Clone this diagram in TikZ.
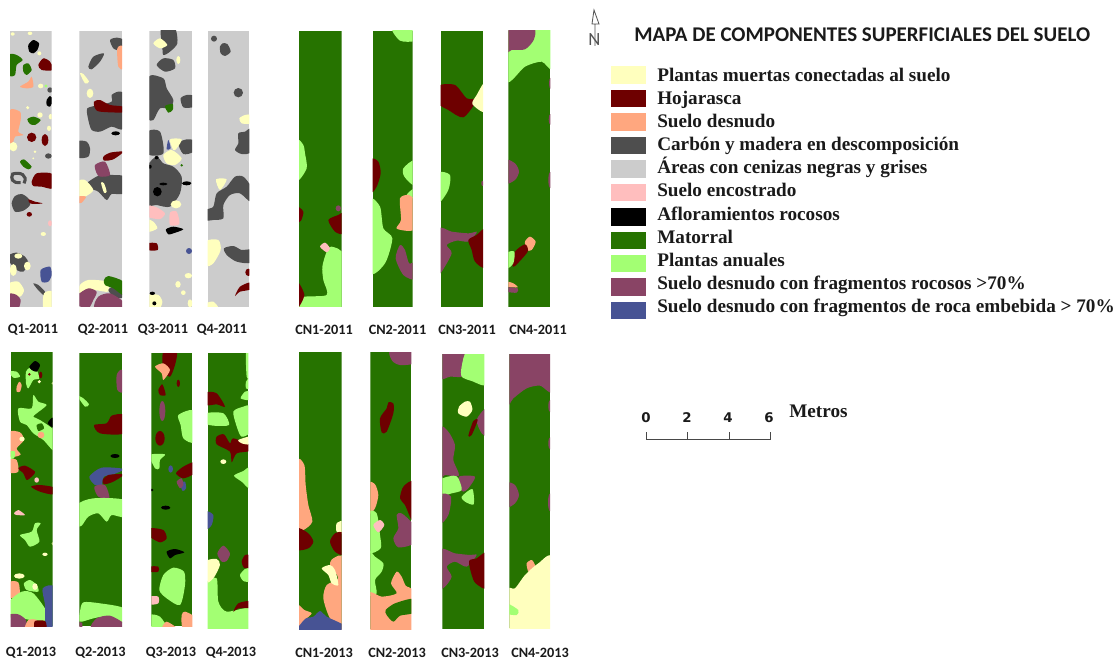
\documentclass[tikz,border=0pt]{standalone}
\usepackage{fontspec}
\setmainfont{Liberation Serif}
\newfontfamily\calib{Carlito}
\newfontfamily\dejav{DejaVu Sans}
\definecolor{cdead}{HTML}{FFFFBE}
\definecolor{clit}{HTML}{6E0000}
\definecolor{cbare}{HTML}{FFA77F}
\definecolor{cchar}{HTML}{4E4E4E}
\definecolor{cash}{HTML}{CCCCCC}
\definecolor{ccrust}{HTML}{FFBEBE}
\definecolor{crock}{HTML}{000000}
\definecolor{cshrub}{HTML}{267300}
\definecolor{cann}{HTML}{A3FF73}
\definecolor{cfrag}{HTML}{894465}
\definecolor{cemb}{HTML}{475394}
\definecolor{ctext}{HTML}{1A1A1A}
\newcommand{\B}[2]{\fill[#1] plot[smooth cycle,tension=.45] coordinates {#2};}
\newcommand{\E}[5][]{\fill[#2] (#3) ellipse [x radius=#4,y radius=#5];}
\newcommand{\RS}[6]{\clip (#1,#3) rectangle (#2,#4); \fill[#5] (#1,#3) rectangle (#2,#4); #6}
\newcommand{\Strip}[6]{\begin{scope}\RS{#1}{#2}{#3}{#4}{#5}{#6}\end{scope}}
\tikzset{
 zoomA/.style={x=0.25pt,y=-0.25pt,shift={(0pt,-15pt)}},
 zoomB/.style={x=0.25pt,y=-0.25pt,shift={(213.75pt,-15pt)}},
 zoomC/.style={x=0.25pt,y=-0.25pt,shift={(0pt,-258.75pt)}},
 zoomD/.style={x=0.25pt,y=-0.25pt,shift={(213.75pt,-258.75pt)}},
 plotlabel/.style={font=\calib\bfseries\fontsize{10.7}{12}\selectfont,text=ctext,inner sep=0pt,anchor=center},
 legendtext/.style={font=\bfseries\fontsize{14.4}{16}\selectfont,text=ctext,inner sep=0pt,anchor=base west},
 swatch/.style={minimum width=25.8pt,minimum height=13.2pt,inner sep=0pt,anchor=north west,draw=none},
 scalenum/.style={font=\dejav\bfseries\fontsize{10}{12}\selectfont,text=ctext,inner sep=0pt,anchor=center},
 scalebar/.style={draw=ctext!80,line width=0.7pt},
}
\begin{document}
\begin{tikzpicture}[x=0.75pt,y=-0.75pt]
\useasboundingbox (0,0) rectangle (1120,660);
\fill[white] (0,0) rectangle (1120,660);

%% ---------- 2011, Q
\begin{scope}[zoomA]
\Strip{30}{155}{32}{860}{cash}{
\B{crock}{(85,75)(100,60)(117,70)(112,90)(100,100)(88,95)}
\B{cshrub}{(28,105)(50,105)(68,120)(50,135)(45,165)(28,165)}
\B{cshrub}{(70,135)(85,130)(95,150)(80,165)(70,155)}
\B{clit}{(115,135)(130,115)(150,125)(158,150)(125,150)}
\B{cbare}{(60,200)(85,185)(95,170)(100,200)(80,205)}
\E{cchar}{150,210}{8}{8}
\B{crock}{(140,240)(150,228)(158,240)(150,260)(140,255)}
\E{cdead}{90,40}{7}{5}\E{cdead}{38,42}{6}{5}\E{cdead}{118,100}{6}{6}\E{cdead}{122,198}{8}{7}\E{cann}{138,198}{5}{5}
\E{cdead}{83,263}{5}{5}\E{cdead}{120,285}{8}{8}\E{cdead}{152,290}{6}{8}\E{cdead}{147,325}{6}{8}\E{cdead}{105,395}{4}{4}\E{cdead}{100,415}{3}{3}
\B{cshrub}{(82,298)(100,290)(122,300)(105,315)(90,312)}
\B{cbare}{(28,272)(60,275)(62,300)(55,335)(70,345)(45,350)(40,365)(28,365)}
\E{cdead}{40,380}{12}{14}
\E{clit}{95,352}{14}{14}\E{clit}{135,360}{10}{18}
\E{cchar}{145,408}{10}{8}
\B{cshrub}{(60,425)(72,418)(95,440)(85,448)(70,440)}
\draw[cchar,line width=2.3pt] (72,490) .. controls (85,465) and (60,455) .. (38,462) .. controls (32,475) and (35,490) .. (62,488);
\B{clit}{(95,485)(110,460)(158,462)(158,505)(125,500)(100,498)}
\B{cchar}{(35,550)(45,528)(65,522)(85,535)(90,555)(70,572)(45,575)}
\B{clit}{(85,538)(105,545)(128,550)(105,552)(90,550)}
\E{clit}{88,583}{8}{7}
\E{ccrust}{150,610}{6}{9}\E{cdead}{130,642}{8}{6}
\B{cchar}{(28,705)(50,698)(75,710)(85,730)(70,755)(50,750)(28,725)}
\E{cdead}{55,708}{12}{8}\E{cdead}{82,738}{10}{13}\E{cdead}{40,750}{10}{18}
\B{cemb}{(122,750)(150,740)(155,765)(145,785)(125,785)}
\B{cchar}{(100,790)(115,795)(135,815)(130,825)(110,805)}
\B{cdead}{(28,790)(55,785)(72,810)(60,830)(28,825)}
\B{cfrag}{(28,822)(50,825)(62,840)(55,865)(28,865)}
\B{cdead}{(132,820)(158,815)(158,865)(130,865)}
}
\Strip{238}{366}{32}{860}{cash}{
\B{cchar}{(330,60)(350,53)(370,60)(360,90)(340,85)}
\B{cbare}{(352,85)(370,80)(370,145)(355,140)}
\B{cchar}{(265,140)(280,110)(312,100)(300,125)(275,148)}
\B{cdead}{(240,160)(250,162)(267,185)(255,190)}
\E{cdead}{270,220}{10}{14}
\B{cchar}{(262,265)(300,255)(335,245)(335,225)(355,215)(370,225)(370,325)(335,320)(300,335)(275,330)(265,300)}
\B{clit}{(282,245)(300,240)(330,255)(370,260)(370,277)(300,275)(285,265)}
\E{crock}{347,340}{13}{6}
\B{cchar}{(234,365)(260,365)(270,385)(265,410)(234,412)}
\B{clit}{(310,410)(330,398)(370,395)(340,418)(312,422)}
\B{cchar}{(260,490)(300,465)(340,465)(370,470)(370,520)(335,522)(320,540)(295,515)(270,505)}
\B{cfrag}{(285,435)(315,425)(330,465)(300,470)(290,460)}
\B{cdead}{(234,485)(255,480)(280,510)(255,530)(234,530)}
\B{cbare}{(234,530)(258,530)(245,548)(234,548)}
\B{cdead}{(303,488)(312,490)(320,515)(312,518)}
\B{cdead}{(240,795)(265,780)(320,785)(325,815)(280,810)(240,820)}
\B{cchar}{(325,810)(345,800)(370,830)(345,835)}
\B{cshrub}{(312,780)(325,768)(370,785)(370,825)(340,805)(315,795)}
\B{cfrag}{(234,825)(265,805)(290,815)(280,840)(265,865)(234,855)}
\B{cfrag}{(285,865)(295,830)(330,820)(370,845)(370,865)}
}
\Strip{448}{576}{32}{860}{cash}{
\B{cchar}{(483,25)(525,25)(532,70)(510,95)(490,105)(487,80)}
\B{cdead}{(460,70)(480,55)(502,75)(480,85)}
\E{cdead}{535,120}{6}{12}
\B{cchar}{(470,135)(490,115)(520,120)(525,145)(495,155)}
\B{cchar}{(444,172)(490,175)(500,205)(520,240)(510,265)(480,265)(460,300)(444,290)}
\B{cshrub}{(495,258)(518,252)(518,270)(505,278)}
\B{cchar}{(542,235)(560,225)(580,228)(580,260)(550,262)}
\B{cchar}{(444,335)(480,335)(490,400)(444,402)}
\B{cchar}{(535,370)(560,358)(580,362)(580,395)(550,402)}
\B{cchar}{(444,440)(470,410)(490,430)(520,440)(545,470)(540,520)(510,560)(470,555)(444,550)}
\B{cemb}{(505,360)(512,385)(500,388)}
\B{cdead}{(510,358)(545,358)(530,385)(520,390)}
\B{cdead}{(490,405)(515,390)(545,415)(525,435)(500,430)}
\E{crock}{450,440}{5}{6}\E{crock}{470,413}{6}{5}\E{crock}{490,492}{12}{4}\E{crock}{472,515}{13}{14}\E{crock}{560,490}{14}{6}\E{cshrub}{545,436}{4}{4}
\E{cdead}{528,553}{16}{12}
\B{ccrust}{(444,558)(470,562)(495,580)(480,597)(444,590)}
\B{ccrust}{(510,578)(530,575)(538,612)(510,615)}
\B{cdead}{(444,600)(460,605)(472,625)(444,635)}
\B{crock}{(498,628)(520,620)(550,628)(520,640)(505,643)}
\B{clit}{(444,670)(470,670)(473,690)(444,690)}
\E{cemb}{567,693}{9}{9}
\E{cdead}{565,767}{11}{8}\E{cdead}{534,793}{8}{10}\E{cdead}{550,818}{7}{7}\E{cdead}{570,850}{7}{12}
\B{cdead}{(444,825)(475,825)(487,845)(478,865)(444,865)}
\E{crock}{457,820}{8}{5}\E{crock}{463,850}{6}{6}
}
\Strip{623}{748}{32}{860}{cash}{
\E{cchar}{642,56}{9}{9}
\B{cchar}{(660,80)(668,70)(682,72)(692,95)(675,108)(662,100)}
\E{cchar}{715,218}{14}{14}
\B{cdead}{(718,295)(735,285)(752,285)(752,310)(725,310)}
\B{cchar}{(715,340)(735,335)(752,328)(752,395)(725,402)(705,390)(715,370)}
\B{cdead}{(648,478)(680,478)(660,510)}
\B{cchar}{(619,570)(640,560)(650,520)(680,500)(705,470)(730,470)(752,500)(752,545)(720,520)(690,525)(670,555)(670,595)(640,600)(619,600)}
\B{cdead}{(619,665)(655,660)(662,690)(640,730)(619,735)}
\B{cchar}{(672,685)(700,678)(725,690)(752,690)(752,728)(710,725)(680,705)}
\E{clit}{745,757}{9}{11}
\B{clit}{(705,828)(720,800)(752,787)(752,808)(720,815)}
\B{cdead}{(619,850)(640,845)(655,865)(619,865)}
}
\end{scope}

%% ---------- 2011, CN
\begin{scope}[zoomB]
\Strip{42}{170}{32}{860}{cshrub}{
\B{cann}{(36,362)(55,375)(60,400)(65,445)(36,480)}
\B{clit}{(36,560)(55,575)(48,602)(36,605)}
\E{cfrag}{160,565}{8}{9}
\B{clit}{(130,600)(160,585)(176,580)(176,640)(150,635)}
\B{cann}{(125,695)(140,680)(176,708)(176,870)(36,870)(50,832)(125,825)(115,780)(112,740)}
\B{ccrust}{(105,680)(120,668)(135,685)(125,697)}
\B{clit}{(36,785)(58,825)(36,865)}
}
\Strip{263}{383}{32}{860}{cshrub}{
\B{cann}{(322,25)(390,25)(390,62)(345,62)}
\B{clit}{(258,420)(280,425)(287,460)(275,500)(258,515)}
\B{cann}{(388,422)(355,445)(358,470)(388,495)}
\B{cann}{(388,505)(365,525)(388,535)}
\B{cbare}{(345,535)(372,525)(388,545)(388,628)(335,626)(348,600)}
\B{cann}{(255,545)(285,560)(295,625)(322,655)(300,730)(255,755)}
\B{cfrag}{(345,675)(360,690)(372,730)(390,728)(390,778)(355,765)(332,715)}
}
\Strip{467}{594}{32}{860}{cshrub}{
\B{clit}{(460,198)(510,195)(545,235)(575,240)(535,292)(490,270)(460,250)}
\B{cdead}{(600,188)(575,225)(562,252)(600,275)}
\B{cann}{(460,460)(495,465)(490,510)(460,548)}
\E{cfrag}{592,490}{3}{8}
\B{cfrag}{(460,628)(500,635)(550,640)(575,635)(570,645)(550,665)(515,662)(485,675)(500,700)(470,755)(460,755)}
\B{clit}{(550,660)(575,645)(600,630)(600,740)(570,725)(560,690)}
}
\Strip{670}{796}{32}{860}{cshrub}{
\B{cann}{(660,25)(800,25)(800,145)(770,125)(720,140)(665,185)}
\B{cfrag}{(660,25)(746,25)(746,60)(720,88)(680,90)(660,100)}
\E{cfrag}{796,190}{4}{16}\E{cfrag}{796,298}{5}{16}\E{cfrag}{796,480}{6}{24}
\B{cfrag}{(660,420)(690,430)(702,455)(690,480)(660,490)}
\B{cbare}{(720,665)(735,650)(752,665)(740,690)(725,690)}
\B{clit}{(690,695)(720,673)(728,695)(690,738)(682,735)}
\B{cann}{(665,700)(688,695)(685,730)(665,745)}
\B{cbare}{(665,785)(685,790)(698,802)(665,800)}
\B{cfrag}{(665,802)(698,805)(695,818)(665,815)}
}
\end{scope}

%% ---------- 2013, Q
\begin{scope}[zoomC]
\Strip{32}{158}{20}{843}{cshrub}{
\B{cann}{(78,80)(90,68)(108,72)(118,100)(100,105)(85,130)(78,115)}
\B{crock}{(88,65)(105,48)(120,60)(110,80)(95,75)}
\B{cann}{(28,80)(50,80)(60,95)(40,98)}
\E{clit}{88,88}{4}{4}\E{clit}{122,90}{5}{10}
\E{cdead}{118,110}{5}{5}\E{cdead}{158,115}{3}{4}
\B{cbare}{(50,125)(58,110)(65,120)(60,140)(50,140)}
\B{cann}{(55,190)(95,190)(100,150)(115,170)(140,180)(110,205)(100,215)(120,225)(165,260)(165,320)(130,285)(100,265)(80,240)(60,230)}
\B{cshrub}{(110,240)(125,235)(132,250)(115,258)}
\B{crock}{(143,235)(158,218)(162,248)}
\E{cbare}{123,270}{10}{10}
\B{cbare}{(28,262)(60,262)(72,285)(50,310)(62,328)(45,335)(28,330)}
\E{cdead}{66,282}{8}{7}
\B{cann}{(28,320)(45,320)(42,340)(28,340)}
\B{cbare}{(28,345)(50,345)(55,380)(28,382)}
\B{clit}{(55,370)(75,362)(105,380)(95,395)(80,405)(70,385)}
\E{ccrust}{110,405}{7}{8}
\B{clit}{(93,425)(120,420)(165,428)(158,448)(120,440)}
\B{ccrust}{(42,505)(55,495)(75,510)(50,510)}
\B{cann}{(60,570)(95,560)(105,535)(122,535)(110,555)(118,590)(90,605)(75,585)}
\E{cdead}{135,628}{8}{5}\E{cdead}{158,596}{3}{5}
\E{cdead}{58,693}{16}{8}
\B{cbare}{(28,712)(55,712)(58,750)(28,758)}
\B{cann}{(72,715)(90,705)(110,720)(115,740)(80,735)}
\E{cdead}{105,725}{8}{10}
\B{cann}{(28,770)(65,740)(100,745)(140,800)(130,830)(65,820)(28,815)}
\B{cemb}{(128,730)(165,728)(165,850)(138,850)(135,780)}
\B{cfrag}{(28,810)(55,808)(78,825)(75,850)(28,850)}
\B{cbare}{(75,850)(85,825)(110,825)(105,850)}
\B{clit}{(105,828)(135,828)(138,850)(105,850)}
}
\Strip{238}{366}{25}{843}{cshrub}{
\B{cfrag}{(350,90)(366,75)(372,140)(352,135)}
\B{cann}{(232,152)(250,160)(267,178)(255,185)}
\B{clit}{(282,240)(320,235)(335,212)(372,210)(372,265)(300,265)}
\E{crock}{345,333}{14}{6}
\B{cemb}{(268,395)(305,368)(372,372)(340,388)(312,395)(305,420)(285,420)}
\B{clit}{(308,405)(325,390)(372,388)(340,410)(312,418)}
\B{cfrag}{(283,425)(315,420)(328,460)(295,455)}
\B{cann}{(232,480)(280,460)(372,465)(372,515)(335,510)(320,530)(295,505)(265,515)(245,542)(232,540)}
\B{cann}{(240,800)(250,772)(300,775)(372,790)(372,835)(320,815)(280,820)(240,830)}
\B{cfrag}{(275,850)(290,820)(330,812)(372,835)(372,850)}
\B{cfrag}{(232,833)(246,833)(246,850)(232,850)}
}
\Strip{454}{577}{25}{843}{cshrub}{
\B{clit}{(490,20)(530,20)(525,60)(510,95)(490,75)}
\B{cbare}{(465,65)(490,55)(510,75)(490,105)(485,85)}
\E{clit}{535,115}{5}{11}
\B{clit}{(475,135)(487,118)(497,150)(480,150)}
\E{cfrag}{487,198}{9}{30}
\E{clit}{480,280}{14}{22}
\B{cann}{(535,210)(582,198)(582,290)(550,280)(542,240)}
\B{cann}{(450,330)(495,328)(480,345)(478,370)(465,370)}
\E{cemb}{512,372}{7}{11}
\B{clit}{(528,385)(550,365)(582,352)(582,385)(550,400)}
\B{cemb}{(540,415)(555,410)(558,430)(548,438)}
\B{cfrag}{(530,410)(545,400)(550,420)(540,430)}
\E{crock}{497,488}{14}{6}\E{crock}{456,435}{4}{4}
\B{clit}{(450,550)(490,555)(500,580)(480,592)(450,575)}
\B{crock}{(500,620)(525,612)(553,622)(525,630)(510,640)}
\B{clit}{(450,665)(475,665)(475,680)(450,680)}
\B{cann}{(490,690)(520,668)(552,680)(555,720)(540,780)(500,760)(478,735)}
\B{ccrust}{(450,755)(475,755)(475,775)(450,778)}
\B{cann}{(450,810)(480,815)(500,850)(450,850)}
\B{cbare}{(487,850)(500,830)(530,850)}
\B{cbare}{(545,810)(555,800)(582,815)(582,850)(548,850)}
}
\Strip{623}{745}{25}{850}{cshrub}{
\B{cann}{(738,25)(750,25)(750,95)(740,95)}
\B{cann}{(738,110)(748,100)(748,130)(738,130)}
\B{cann}{(722,160)(735,140)(750,140)(750,165)}
\B{clit}{(618,143)(650,145)(675,185)(650,178)(618,180)}
\B{cann}{(618,205)(670,205)(687,240)(640,242)(618,235)}
\B{cann}{(700,200)(730,185)(750,185)(750,260)(725,275)(712,250)}
\B{clit}{(650,275)(672,268)(690,295)(700,280)(750,300)(750,318)(710,325)(695,352)(690,320)(650,298)}
\B{cdead}{(715,285)(750,275)(750,298)(725,295)}
\E{cdead}{670,350}{9}{7}
\B{cann}{(702,392)(730,378)(750,368)(750,430)(725,410)}
\B{cemb}{(618,500)(640,510)(635,540)(618,552)}
\B{cfrag}{(652,625)(670,602)(690,625)(680,648)(665,650)}
\B{clit}{(725,650)(735,630)(750,632)(750,668)(732,668)}
\B{cann}{(720,690)(735,672)(750,672)(750,708)(730,708)}
\B{cann}{(618,720)(650,700)(655,770)(680,800)(750,790)(750,855)(618,855)}
\B{cdead}{(618,650)(650,642)(660,660)(640,700)(618,712)}
\B{clit}{(700,800)(715,775)(750,768)(750,788)(715,790)}
}
\end{scope}

%% ---------- 2013, CN
\begin{scope}[zoomD]
\Strip{42}{170}{22}{852}{cshrub}{
\B{cbare}{(36,350)(58,360)(62,420)(70,480)(82,530)(55,555)(36,545)}
\B{clit}{(36,550)(70,565)(85,590)(70,610)(36,613)}
\B{cdead}{(155,535)(176,528)(176,565)(155,560)}
\B{clit}{(135,590)(150,565)(176,565)(176,628)(150,620)}
\B{cbare}{(135,660)(145,640)(176,645)(176,860)(135,820)(115,760)(125,720)(160,700)}
\B{cdead}{(110,670)(135,660)(150,675)(160,720)(140,715)(130,690)}
\B{cbare}{(36,780)(58,795)(80,805)(60,825)(36,855)}
\B{cemb}{(42,860)(60,822)(85,815)(105,798)(125,815)(176,840)(176,860)}
}
\Strip{256}{379}{22}{852}{cshrub}{
\B{cfrag}{(315,18)(385,18)(385,55)(345,60)(322,48)}
\B{clit}{(285,220)(305,190)(310,172)(325,175)(325,205)(305,260)(290,262)}
\B{cbare}{(250,415)(270,418)(280,450)(270,490)(250,505)}
\B{cfrag}{(335,510)(350,505)(385,540)(385,595)(340,607)(325,580)(340,550)}
\B{clit}{(385,412)(355,425)(345,460)(360,480)(385,530)}
\B{cann}{(250,505)(275,505)(285,570)(287,610)(250,620)}
\B{ccrust}{(265,540)(285,525)(298,540)(280,562)}
\B{cann}{(250,620)(270,635)(295,655)(290,680)(270,705)(275,745)(250,745)}
\B{cbare}{(250,745)(290,755)(335,745)(318,715)(335,680)(350,695)(362,722)(385,742)(385,860)(250,860)}
\B{cshrub}{(302,795)(330,775)(385,762)(385,803)(345,812)(325,830)(305,810)}
}
\Strip{472}{598}{28}{852}{cshrub}{
\B{cfrag}{(465,20)(545,20)(530,70)(530,95)(495,95)(465,100)}
\B{cann}{(545,20)(605,20)(605,118)(560,108)(530,95)(530,65)}
\B{cdead}{(540,170)(555,170)(562,195)(545,215)(520,205)(522,185)}
\B{cfrag}{(605,190)(575,225)(590,265)(605,268)}
\B{clit}{(565,228)(578,225)(560,270)(550,272)}
\B{cfrag}{(465,250)(490,260)(510,300)(505,345)(522,392)(480,390)(465,395)}
\B{cfrag}{(522,395)(570,395)(550,430)(535,440)(525,430)}
\B{cann}{(465,405)(505,392)(520,400)(530,435)(500,445)(465,452)}
\B{cann}{(530,455)(562,432)(566,478)(540,470)}
\B{cfrag}{(465,450)(498,455)(490,510)(465,535)}
\B{cfrag}{(465,615)(510,625)(555,630)(575,630)(545,665)(510,650)(485,665)(500,695)(480,725)(465,725)}
\B{clit}{(552,648)(575,640)(605,625)(605,728)(572,715)(560,690)}
}
\Strip{673}{795}{28}{850}{cshrub}{
\B{cfrag}{(665,20)(802,20)(802,140)(765,122)(725,130)(685,160)(665,180)}
\E{cfrag}{795,183}{5}{18}\E{cfrag}{795,295}{5}{18}\E{cfrag}{795,472}{6}{26}
\B{cfrag}{(665,415)(690,420)(702,450)(690,475)(665,485)}
\B{cbare}{(725,655)(740,645)(750,660)(745,680)(730,680)}
\B{cdead}{(665,735)(690,730)(720,690)(760,655)(802,640)(802,860)(665,860)}
\B{cann}{(665,775)(700,795)(695,810)(665,805)}
}
\end{scope}

%% ---------- strip labels
\node[plotlabel] (q1a) at (33,330) {Q1-2011};
\node[plotlabel] (q2a) at (103,330) {Q2-2011};
\node[plotlabel] (q3a) at (163,330) {Q3-2011};
\node[plotlabel] (q4a) at (222,330) {Q4-2011};
\node[plotlabel] (c1a) at (324,330) {CN1-2011};
\node[plotlabel] (c2a) at (397.5,330) {CN2-2011};
\node[plotlabel] (c3a) at (467,330) {CN3-2011};
\node[plotlabel] (c4a) at (538,330) {CN4-2011};
\node[plotlabel] (q1b) at (31,653) {Q1-2013};
\node[plotlabel] (q2b) at (100.5,653) {Q2-2013};
\node[plotlabel] (q3b) at (171,653) {Q3-2013};
\node[plotlabel] (q4b) at (231,653) {Q4-2013};
\node[plotlabel] (c1b) at (324,653) {CN1-2013};
\node[plotlabel] (c2b) at (397,653) {CN2-2013};
\node[plotlabel] (c3b) at (470,653) {CN3-2013};
\node[plotlabel] (c4b) at (540,653) {CN4-2013};

%% ---------- north arrow
\node[inner sep=0pt,font=\calib\fontsize{14}{14}\selectfont,text=ctext!75] (northn) at (594.5,39.5) {N};
\coordinate (na1) at (594,10);
\coordinate (na2) at (592,24);
\coordinate (na3) at (599,24);
\coordinate (na4) at (595,24);
\coordinate (na5) at (595,46);
\draw[ctext!75,line width=0.6pt] (na1) -- (na2) -- (na3) -- cycle (na4) -- (na5);

%% ---------- title and legend
\node[font=\calib\bfseries\fontsize{15.7}{18}\selectfont,text=ctext,inner sep=0pt,anchor=west] (title) at (634,35) {MAPA DE COMPONENTES SUPERFICIALES DEL SUELO};

\node[swatch,fill=cdead] (s1) at (611,66) {};
\node[swatch,fill=clit] (s2) at (611,89.5) {};
\node[swatch,fill=cbare] (s3) at (611,113) {};
\node[swatch,fill=cchar] (s4) at (611,136.5) {};
\node[swatch,fill=cash] (s5) at (611,160) {};
\node[swatch,fill=ccrust] (s6) at (611,183.5) {};
\node[swatch,fill=crock] (s7) at (611,208) {};
\node[swatch,fill=cshrub] (s8) at (611,231.5) {};
\node[swatch,fill=cann] (s9) at (611,254.5) {};
\node[swatch,fill=cfrag] (s10) at (611,278) {};
\node[swatch,fill=cemb] (s11) at (611,301.5) {};
\node[legendtext] (t1) at (657,81) {Plantas muertas conectadas al suelo};
\node[legendtext] (t2) at (657,104) {Hojarasca};
\node[legendtext] (t3) at (657,127) {Suelo desnudo};
\node[legendtext] (t4) at (657,150.5) {Carbón y madera en descomposición};
\node[legendtext] (t5) at (657,173.5) {Áreas con cenizas negras y grises};
\node[legendtext] (t6) at (657,196.5) {Suelo encostrado};
\node[legendtext] (t7) at (657,220) {Afloramientos rocosos};
\node[legendtext] (t8) at (657,243) {Matorral};
\node[legendtext] (t9) at (657,266) {Plantas anuales};
\node[legendtext] (t10) at (657,289) {Suelo desnudo con fragmentos rocosos >70\%};
\node[legendtext] (t11) at (657,312) {Suelo desnudo con fragmentos de roca embebida > 70\%};

%% ---------- scale bar
\node[scalenum] (n0) at (646,418) {0};
\node[scalenum] (n2) at (687,418) {2};
\node[scalenum] (n4) at (728,418) {4};
\node[scalenum] (n6) at (769,418) {6};
\node[legendtext,anchor=base west] (metros) at (789,417.5) {Metros};
\coordinate (b0) at (646,439);
\coordinate (b6) at (770,439);
\coordinate (b0t) at (646,432);
\coordinate (b2t) at (687,432);
\coordinate (b2) at (687,439);
\coordinate (b4t) at (729,432);
\coordinate (b4) at (729,439);
\coordinate (b6t) at (770,432);
\draw[scalebar] (b0t) -- (b0) -- (b6) -- (b6t) (b2t) -- (b2) (b4t) -- (b4);
\end{tikzpicture}
\end{document}
